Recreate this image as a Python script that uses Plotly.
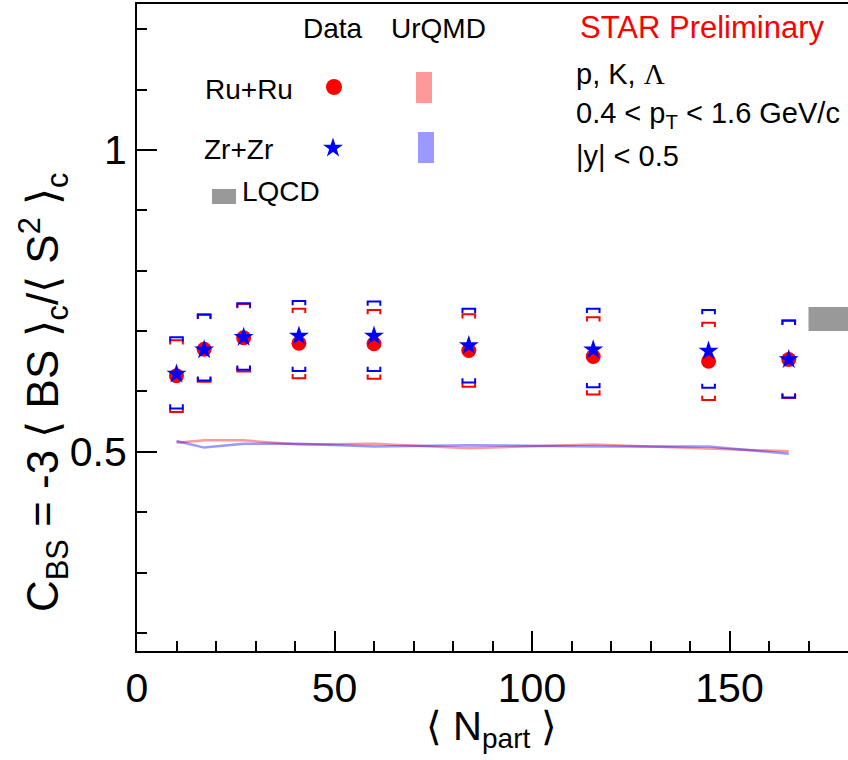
import plotly.graph_objects as go

# ---------------- data ----------------
npart = [10.0, 17.0, 27.0, 41.0, 60.0, 84.0, 115.5, 144.7, 165.0]

ru_cbs = [0.626, 0.670, 0.689, 0.680, 0.679, 0.668, 0.658, 0.650, 0.653]
ru_sys_hi = [0.685, 0.728, 0.745, 0.737, 0.735, 0.728, 0.723, 0.714, 0.718]
ru_sys_lo = [0.566, 0.616, 0.633, 0.622, 0.621, 0.608, 0.595, 0.586, 0.589]

zr_cbs = [0.629, 0.669, 0.690, 0.692, 0.692, 0.676, 0.669, 0.667, 0.653]
zr_sys_hi = [0.690, 0.727, 0.746, 0.750, 0.749, 0.737, 0.737, 0.735, 0.717]
zr_sys_lo = [0.572, 0.618, 0.636, 0.634, 0.634, 0.615, 0.607, 0.606, 0.590]

urqmd_ru = [0.515, 0.519, 0.519, 0.512, 0.5135, 0.506, 0.512, 0.505, 0.501]
urqmd_zr = [0.518, 0.507, 0.5135, 0.5135, 0.509, 0.511, 0.509, 0.509, 0.497]

lqcd_npart = [170, 180]
lqcd_cbs = [0.70, 0.74]

# ---------------- styling ----------------
FONT = "Liberation Sans, Arial, Helvetica, sans-serif"
W, H = 848, 760
ML, MR, MT, MB = 137, 0, 4, 109
PW, PH = W - ML - MR, H - MT - MB
LANG_L, LANG_R = "\u27e8", "\u27e9"

RED = "#ff0000"
BLUE = "#0000ff"
RED_BAND = "rgba(255,0,0,0.4)"
BLUE_BAND = "rgba(0,0,255,0.4)"
GRAY = "#999999"

BR_HALF = 1.6     # half width of systematic bracket (x units)
BR_LEG = 0.007    # bracket leg length (y units)


def px2paper(px, py):
    return (px - ML) / PW, (H - MB - py) / PH


def brackets(x, hi, lo):
    xs, ys = [], []
    for xi, h, l in zip(x, hi, lo):
        xs += [xi - BR_HALF, xi - BR_HALF, xi + BR_HALF, xi + BR_HALF, None]
        ys += [h - BR_LEG, h, h, h - BR_LEG, None]
        xs += [xi - BR_HALF, xi - BR_HALF, xi + BR_HALF, xi + BR_HALF, None]
        ys += [l + BR_LEG, l, l, l + BR_LEG, None]
    return xs, ys


fig = go.Figure()

# UrQMD curves
fig.add_trace(go.Scatter(x=npart, y=urqmd_ru, mode="lines",
                         line=dict(color=RED_BAND, width=2.5), showlegend=False))
fig.add_trace(go.Scatter(x=npart, y=urqmd_zr, mode="lines",
                         line=dict(color=BLUE_BAND, width=2.5), showlegend=False))

# systematic brackets
bx, by = brackets(npart, ru_sys_hi, ru_sys_lo)
fig.add_trace(go.Scatter(x=bx, y=by, mode="lines", line=dict(color=RED, width=2),
                         showlegend=False))
bx, by = brackets(npart, zr_sys_hi, zr_sys_lo)
fig.add_trace(go.Scatter(x=bx, y=by, mode="lines", line=dict(color=BLUE, width=2),
                         showlegend=False))

# data points
fig.add_trace(go.Scatter(x=npart, y=ru_cbs, mode="markers",
                         marker=dict(symbol="circle", size=15, color=RED, line=dict(width=0)),
                         showlegend=False))
fig.add_trace(go.Scatter(x=npart, y=zr_cbs, mode="markers",
                         marker=dict(symbol="star", size=15, color=BLUE, line=dict(width=0)),
                         showlegend=False))

# LQCD band
fig.add_shape(type="rect", xref="x", yref="y",
              x0=lqcd_npart[0], x1=lqcd_npart[1], y0=lqcd_cbs[0], y1=lqcd_cbs[1],
              fillcolor=GRAY, line=dict(width=0), layer="above")

# ---------------- legend (manual) ----------------
lx, ly = px2paper(334, 87)
sx, sy = px2paper(333, 148)
fig.add_trace(go.Scatter(x=[lx], y=[ly], xaxis="x2", yaxis="y2", mode="markers",
                         marker=dict(symbol="circle", size=16, color=RED), showlegend=False))
fig.add_trace(go.Scatter(x=[sx], y=[sy], xaxis="x2", yaxis="y2", mode="markers",
                         marker=dict(symbol="star", size=15, color=BLUE), showlegend=False))


def paper_rect(px0, py0, px1, py1, color):
    x0, y0 = px2paper(px0, py1)
    x1, y1 = px2paper(px1, py0)
    fig.add_shape(type="rect", xref="paper", yref="paper", x0=x0, x1=x1, y0=y0, y1=y1,
                  fillcolor=color, line=dict(width=0))


paper_rect(416, 72, 432, 103, "#ff9999")
paper_rect(418, 132, 434, 163, "#9999ff")
paper_rect(212, 189, 236, 204, GRAY)


def label(text, px, py, anchor="left", color="black", size=28):
    x, y = px2paper(px, py)
    fig.add_annotation(text=text, x=x, y=y, xref="paper", yref="paper",
                       xanchor=anchor, yanchor="middle", showarrow=False,
                       font=dict(family=FONT, size=size, color=color))


label("Data", 333, 29, anchor="center")
label("UrQMD", 438, 29, anchor="center")
label("Ru+Ru", 203, 89)
label("Zr+Zr", 202, 149)
label("LQCD", 240, 192)

label("STAR Preliminary", 578, 27, color=RED, size=31)
label("p, K, <span style='font-family:Liberation Serif'>\u039b</span>", 574, 74, size=29)
label("0.4 &lt; p<sub>T</sub> &lt; 1.6 GeV/c", 574, 115, size=29)
label("|y| &lt; 0.5", 574, 156, size=29)

# axis titles
label(f"{LANG_L} N<sub>part</sub> {LANG_R}", 491, 729, anchor="center", size=40)
tx, ty = px2paper(44, 392)
fig.add_annotation(
    text=f"C<sub>BS</sub> = -3 {LANG_L} BS {LANG_R}<sub>c</sub>/{LANG_L} S<sup>2</sup> {LANG_R}<sub>c</sub>",
    x=tx, y=ty, xref="paper", yref="paper", xanchor="center", yanchor="middle",
    textangle=-90, showarrow=False, font=dict(family=FONT, size=44, color="black"))

axis_common = dict(
    showline=True, linewidth=2, linecolor="black", showgrid=False, zeroline=False,
    ticks="inside", ticklen=20, tickwidth=2, tickcolor="black",
    tickfont=dict(family=FONT, size=41, color="black"),
)

fig.update_layout(
    width=W, height=H,
    margin=dict(l=ML, r=MR, t=MT, b=MB),
    paper_bgcolor="white", plot_bgcolor="white",
    xaxis=dict(range=[0, 180], tick0=0, dtick=50, mirror=True,
               minor=dict(ticks="inside", ticklen=10, tickwidth=1.5, tickcolor="black",
                          tick0=0, dtick=10, showgrid=False),
               **axis_common),
    yaxis=dict(range=[0.17, 1.242], tick0=0, dtick=0.5,
               minor=dict(ticks="inside", ticklen=10, tickwidth=1.5, tickcolor="black",
                          tick0=0, dtick=0.1, showgrid=False),
               **axis_common),
    xaxis2=dict(range=[0, 1], overlaying="x", visible=False),
    yaxis2=dict(range=[0, 1], overlaying="y", visible=False),
    showlegend=False,
)

fig.write_html("out.html")
